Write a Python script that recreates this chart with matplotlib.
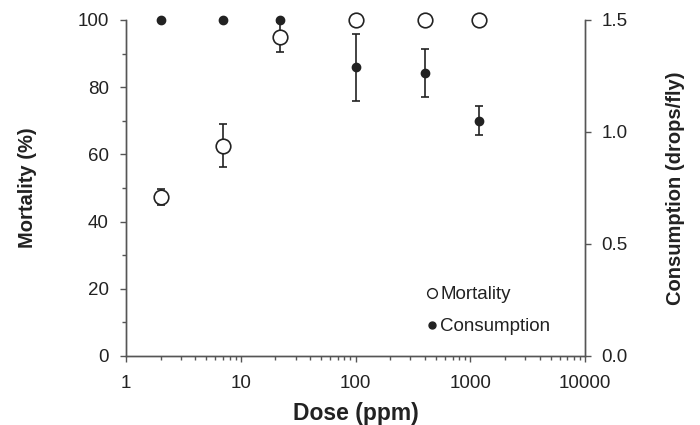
import matplotlib
matplotlib.use("Agg")
import matplotlib.pyplot as plt
import numpy as np
from matplotlib.lines import Line2D
from matplotlib.ticker import FixedLocator, NullFormatter, LogLocator

plt.rcParams['font.family'] = ['Liberation Sans', 'DejaVu Sans']

dose = [2, 7, 22, 100, 400, 1200]
mortality = [47.4, 62.6, 95.0, 100, 100, 100]
mortality_err = [2.4, 6.4, 4.5, 0, 0, 0]
consumption = [1.5, 1.5, 1.5, 1.289, 1.265, 1.05]
consumption_err = [0, 0, 0, 0.15, 0.107, 0.064]

ink = "#222222"
axcol = "#555555"

fig = plt.figure(figsize=(7, 4.25), dpi=100)
ax = fig.add_axes([0.18, 0.1624, 0.656, 0.7906])
ax2 = ax.twinx()

ax.errorbar(dose, mortality, yerr=mortality_err, fmt="o", ms=10.5, mfc="white",
            mec=ink, mew=1.2, ecolor=ink, elinewidth=1.2, capsize=3,
            capthick=1.2, zorder=3, clip_on=False)
ax2.errorbar(dose, consumption, yerr=consumption_err, fmt="o", ms=6,
             mfc=ink, mec=ink, ecolor=ink, elinewidth=1.2, capsize=3,
             capthick=1.2, zorder=3, clip_on=False)

ax.set_xscale("log")
ax.set_xlim(1, 10000)
ax.set_ylim(0, 100)
ax2.set_ylim(0, 1.5)
ax.set_xticks([1, 10, 100, 1000, 10000])
ax.set_xticklabels(["1", "10", "100", "1000", "10000"])
ax.xaxis.set_minor_locator(LogLocator(base=10, subs=np.arange(2, 10)))
ax.xaxis.set_minor_formatter(NullFormatter())
ax.set_yticks([0, 20, 40, 60, 80, 100])
ax.yaxis.set_minor_locator(FixedLocator(np.arange(0, 101, 10)))
ax2.set_yticks([0.0, 0.5, 1.0, 1.5])
ax2.set_yticklabels(["0.0", "0.5", "1.0", "1.5"])

for a in (ax, ax2):
    a.spines["top"].set_visible(False)
    for s in a.spines.values():
        s.set_color(axcol)
        s.set_linewidth(1.0)
    a.tick_params(which="major", direction="out", length=4.5, width=1,
                  color=axcol, labelsize=13.5, labelcolor=ink)
    a.tick_params(which="minor", direction="out", length=3, width=1,
                  color=axcol)
ax.tick_params(axis="y", pad=8)
ax.tick_params(axis="x", pad=9)
ax2.tick_params(axis="y", pad=7)

ax.set_xlabel("Dose (ppm)", fontsize=16.5, fontweight="bold", color=ink)
ax.set_ylabel("Mortality (%)", fontsize=14.5, fontweight="bold", color=ink)
ax2.set_ylabel("Consumption (drops/fly)", fontsize=14.5, fontweight="bold",
               color=ink)
ax.xaxis.set_label_coords(0.5, -0.137)
ax.yaxis.set_label_coords(-0.194, 0.5)
ax2.yaxis.set_label_coords(1.1765, 0.5)

handles = [
    Line2D([], [], ls="none", marker="o", ms=7, mfc="white", mec=ink, mew=1),
    Line2D([], [], ls="none", marker="o", ms=5, mfc=ink, mec=ink),
]
ax2.legend(handles, ["Mortality", "Consumption"], loc="lower right",
           bbox_to_anchor=(0.961, 0.011), frameon=False, fontsize=13.5,
           handlelength=0.6, handletextpad=0.15, labelspacing=0.8,
           labelcolor=ink)

fig.savefig("out.png", dpi=100)
